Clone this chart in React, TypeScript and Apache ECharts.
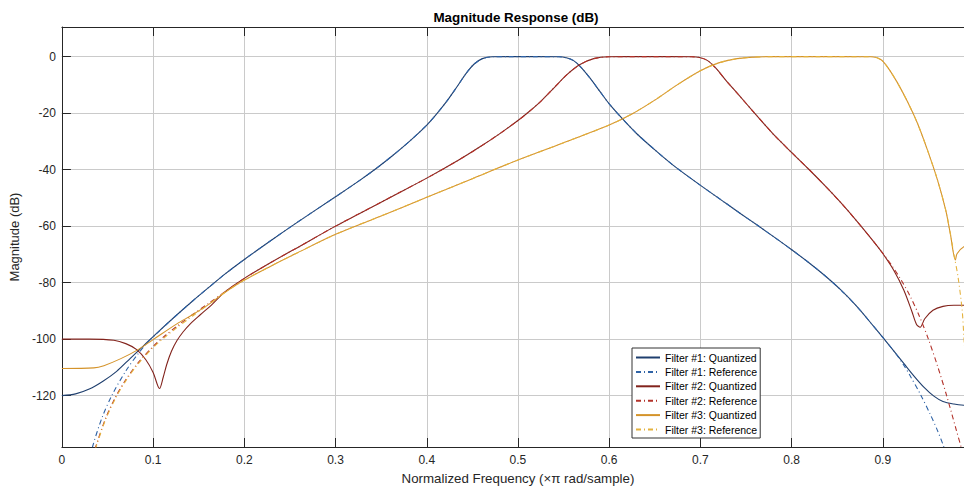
import React, { useEffect, useRef } from 'react';
import * as echarts from 'echarts';

// ---- Data (normalized frequency, magnitude dB) ----
const xTicks = [0, 0.1, 0.2, 0.3, 0.4, 0.5, 0.6, 0.7, 0.8, 0.9, 1];
const yTicks = [-120, -100, -80, -60, -40, -20, 0];

// Filter #1
const f1QuantLow: [number, number][] = [
  [0, -120], [0.015, -119.4], [0.03, -117.7], [0.045, -114.9], [0.06, -111.4],
  [0.075, -106.8], [0.09, -102.2], [0.105, -97.6],
];
const f1RefLow: [number, number][] = [
  [0.031, -142.5], [0.0335, -138.2], [0.044, -127.8], [0.055, -119.8], [0.07, -111.3],
  [0.084, -105], [0.095, -100.8], [0.105, -97.7],
];
const f1Shared: [number, number][] = [
  [0.124, -92.0], [0.143, -86.6], [0.161, -81.7], [0.179, -76.9], [0.2, -71.8],
  [0.23, -64.9], [0.256, -59.1], [0.3, -49.6], [0.3265, -43.8], [0.3445, -39.6],
  [0.3627, -35.0], [0.381, -30.0], [0.3995, -24.4], [0.41, -20.6], [0.421, -16.2],
  [0.432, -11.2], [0.443, -6.0], [0.452, -2.6], [0.461, -0.7], [0.472, -0.05],
  [0.49, 0], [0.52, 0], [0.545, -0.05], [0.553, -0.4], [0.561, -1.4], [0.5684, -3.5],
  [0.5793, -7.7], [0.59, -12.4], [0.601, -17.1], [0.6157, -22.4], [0.63, -27.2],
  [0.649, -32.7], [0.67, -38.4], [0.699, -45.3], [0.728, -51.9], [0.745, -55.8],
  [0.763, -59.8], [0.781, -63.9], [0.799, -68.1], [0.818, -72.7], [0.836, -77.4],
  [0.854, -82.6], [0.872, -88.6], [0.89, -95.5], [0.9, -99.4], [0.912, -104.2],
];
const f1QuantHigh: [number, number][] = [
  [0.923, -108.6], [0.934, -113], [0.945, -117], [0.956, -120.2], [0.966, -122.1],
  [0.978, -123], [0.989, -123.4], [1, -123.5],
];
const f1RefHigh: [number, number][] = [
  [0.923, -109.2], [0.93, -113], [0.941, -119.4], [0.952, -126.6], [0.96, -132.4],
  [0.967, -138.2], [0.972, -143],
];

// Filter #2
const f2QuantLow: [number, number][] = [
  [0, -100], [0.03, -100], [0.057, -100.4], [0.07, -101.6], [0.082, -103.7],
  [0.092, -107.3], [0.1, -111.8], [0.107, -117.5], [0.111, -113.6], [0.115, -108.9],
  [0.12, -104.4], [0.126, -100.6], [0.133, -97.4], [0.141, -94.5], [0.152, -91.3],
  [0.165, -87.6],
];
const f2RefLow: [number, number][] = [
  [0.033, -143], [0.037, -138.2], [0.048, -128], [0.059, -120.4], [0.07, -114.4],
  [0.083, -108.6], [0.1, -102.6], [0.113, -98.8], [0.127, -95.2], [0.143, -91.4],
  [0.161, -87.3],
];
const f2Shared: [number, number][] = [
  [0.179, -83.2], [0.2, -78.5], [0.23, -72.7], [0.256, -68.0], [0.3, -60.0],
  [0.3265, -55.5], [0.363, -49.3], [0.3995, -43.1], [0.4355, -36.5], [0.4575, -32.1],
  [0.479, -27.5], [0.5, -22.6], [0.512, -19.5], [0.525, -15.8], [0.539, -11.2],
  [0.554, -6.3], [0.568, -2.8], [0.583, -0.7], [0.6, -0.05], [0.64, 0], [0.69, -0.05],
  [0.699, -0.3], [0.708, -1.4], [0.717, -4.1], [0.728, -8.4], [0.743, -13.9],
  [0.757, -19.1], [0.772, -24.6], [0.781, -27.8], [0.799, -33.6], [0.818, -39.6],
  [0.836, -45.5], [0.854, -51.7], [0.872, -58.4], [0.89, -65.5],
];
const f2QuantHigh: [number, number][] = [
  [0.9, -69.7], [0.912, -75.6], [0.923, -82.6], [0.932, -90.3], [0.937, -94.8],
  [0.941, -95.8], [0.946, -92.8], [0.955, -89.8], [0.966, -88.4], [0.978, -88],
  [0.989, -88], [1, -88],
];
const f2RefHigh: [number, number][] = [
  [0.9, -69.6], [0.91, -74], [0.92, -79], [0.93, -84.8], [0.94, -91.8], [0.95, -100],
  [0.96, -109.5], [0.97, -120], [0.98, -131.5], [0.987, -139.5], [0.99, -143],
];

// Filter #3
const f3QuantLow: [number, number][] = [
  [0, -110.4], [0.035, -110.2], [0.046, -109.4], [0.064, -107], [0.0826, -103.9],
  [0.1008, -100], [0.126, -94.6], [0.143, -91.4],
];
const f3RefLow: [number, number][] = [
  [0.033, -143], [0.037, -138.6], [0.048, -128.4], [0.059, -120.8], [0.07, -114.8],
  [0.083, -109.0], [0.1, -103.0], [0.113, -99.3], [0.127, -95.7], [0.143, -91.9],
];
const f3Shared: [number, number][] = [
  [0.161, -87.7], [0.179, -83.4], [0.2, -79.1], [0.23, -74.0], [0.256, -69.8],
  [0.3, -62.9], [0.35, -56.4], [0.4, -49.8], [0.45, -43.2], [0.5, -36.6],
  [0.55, -30.5], [0.6, -24.2], [0.625, -20.3], [0.65, -15.4], [0.675, -9.9],
  [0.7, -5.0], [0.72, -2.2], [0.74, -0.7], [0.76, -0.15], [0.78, 0], [0.83, 0],
  [0.888, -0.05], [0.8977, -1.0], [0.905, -3.6], [0.916, -9.2], [0.927, -15.9],
  [0.938, -23.6], [0.949, -33.1], [0.96, -43.7], [0.969, -54.3], [0.974, -62.6],
];
const f3QuantHigh: [number, number][] = [
  [0.9796, -72], [0.9814, -69.8], [0.9889, -67.3], [1, -66.5],
];
const f3RefHigh: [number, number][] = [
  [0.978, -70], [0.9825, -78], [0.987, -89.7], [0.9889, -99.2], [0.992, -115], [0.995, -143],
];

const seriesNames = [
  'Filter #1: Quantized', 'Filter #1: Reference',
  'Filter #2: Quantized', 'Filter #2: Reference',
  'Filter #3: Quantized', 'Filter #3: Reference',
];
const seriesColors = ['#1f3f6e', '#2f63a6', '#82231c', '#b3322a', '#d4932a', '#e4b23e'];

const FONT = "'Liberation Sans', Arial, Helvetica, sans-serif";
const DASH_DOT = [5, 3, 1, 3];
const TXT = '#262626';

export default function App() {
  const ref = useRef<HTMLDivElement>(null);
  useEffect(() => {
    const chart = echarts.init(ref.current as HTMLDivElement, null, { renderer: 'svg' });
    const datasets = [
      [...f1QuantLow, ...f1Shared, ...f1QuantHigh],
      [...f1RefLow, ...f1Shared, ...f1RefHigh],
      [...f2QuantLow, ...f2Shared, ...f2QuantHigh],
      [...f2RefLow, ...f2Shared, ...f2RefHigh],
      [...f3QuantLow, ...f3Shared, ...f3QuantHigh],
      [...f3RefLow, ...f3Shared, ...f3RefHigh],
    ];
    const series = datasets.map((data, i) => ({
      name: seriesNames[i],
      type: 'line',
      data,
      symbol: 'none',
      smooth: 0.3,
      clip: true,
      silent: true,
      xAxisIndex: 0,
      yAxisIndex: 0,
      itemStyle: { color: seriesColors[i] },
      lineStyle: { color: seriesColors[i], width: 1.1, type: i % 2 === 1 ? DASH_DOT : 'solid' },
    }));
    const axisCommon = {
      axisLine: { show: true, onZero: false, lineStyle: { color: TXT, width: 1 } },
      axisTick: { show: true, inside: true, length: 9, lineStyle: { color: TXT, width: 1 } },
    };
    chart.setOption({
      animation: false,
      backgroundColor: '#ffffff',
      grid: { left: 58, right: 0, top: 27, bottom: 43, containLabel: false },
      graphic: [
        {
          type: 'text',
          x: 516,
          y: 17,
          style: {
            text: 'Magnitude Response (dB)',
            font: `bold 13.4px ${FONT}`,
            fill: '#000',
            textAlign: 'center',
            textVerticalAlign: 'middle',
          },
        },
      ],
      legend: {
        orient: 'vertical',
        left: 632,
        top: 348,
        padding: [4, 3, 3, 3],
        itemWidth: 24,
        itemHeight: 10,
        itemGap: 3.4,
        backgroundColor: '#ffffff',
        borderColor: '#333333',
        borderWidth: 1,
        borderRadius: 0,
        selectedMode: false,
        itemStyle: { opacity: 0 },
        textStyle: { fontSize: 10.5, fontFamily: FONT, color: '#000', lineHeight: 10 },
        data: seriesNames,
        z: 10,
      },
      xAxis: [
        {
          type: 'value',
          min: xTicks[0],
          max: xTicks[xTicks.length - 1],
          interval: 0.1,
          position: 'bottom',
          ...axisCommon,
          splitLine: { show: true, lineStyle: { color: '#cacaca', width: 1 } },
          axisLabel: {
            show: true,
            color: TXT,
            fontSize: 12,
            fontFamily: FONT,
            margin: 7,
            showMaxLabel: false,
            formatter: (v: number) => (v === 0 ? '0' : String(Math.round(v * 10) / 10)),
          },
          name: 'Normalized Frequency (\u00d7\u03c0 rad/sample)',
          nameLocation: 'middle',
          nameGap: 25,
          nameTextStyle: { color: TXT, fontSize: 13.3, fontFamily: FONT },
        },
        {
          type: 'value',
          min: xTicks[0],
          max: xTicks[xTicks.length - 1],
          interval: 0.1,
          position: 'top',
          ...axisCommon,
          splitLine: { show: false },
          axisLabel: { show: false },
        },
      ],
      yAxis: [
        {
          type: 'value',
          min: -138.2,
          max: 10.5,
          splitNumber: yTicks.length,
          ...axisCommon,
          splitLine: { show: true, lineStyle: { color: '#cacaca', width: 1 } },
          axisLabel: {
            show: true,
            color: TXT,
            fontSize: 12,
            fontFamily: FONT,
            margin: 6,
            showMinLabel: false,
            showMaxLabel: false,
          },
          name: 'Magnitude (dB)',
          nameLocation: 'middle',
          nameGap: 34,
          nameTextStyle: { color: TXT, fontSize: 13, fontFamily: FONT },
        },
      ],
      series,
    });
    return () => chart.dispose();
  }, []);
  return (
    <div style={{ position: 'absolute', left: 0, top: 0, width: 964, height: 490, overflow: 'hidden' }}>
      <div ref={ref} style={{ width: 974, height: 490 }} />
    </div>
  );
}
